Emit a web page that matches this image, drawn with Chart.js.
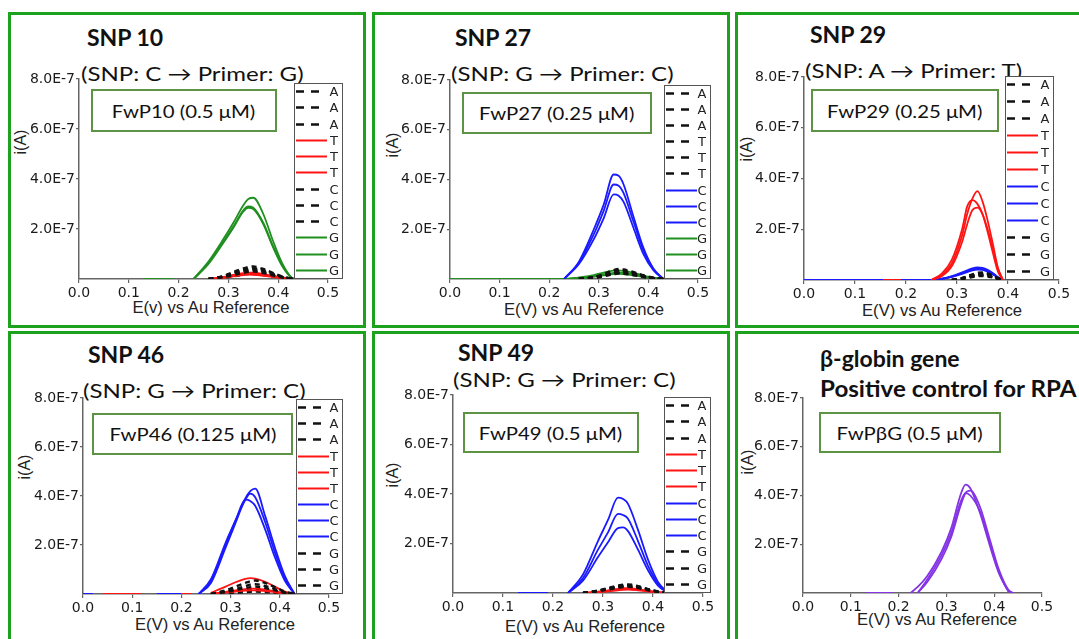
<!DOCTYPE html>
<html>
<head>
<meta charset="utf-8">
<script src="https://cdn.jsdelivr.net/npm/chart.js@4.4.0/dist/chart.umd.min.js"></script>
<style>
  body { margin: 0; background: #fff; }
  #fig { position: relative; width: 1079px; height: 639px; overflow: hidden; background: #fff; }
  .panel { position: absolute; border: 3px solid #1ca21c; box-sizing: border-box; }
  .ttl, .sub, .box, .ylab, .xlab { position: absolute; white-space: nowrap; line-height: 1; color: #111; }
  .ttl { font: bold 23px Lato, "Open Sans", sans-serif; }
  .sub { font: 20px Lato, "Open Sans", sans-serif; transform: scaleX(1.2); transform-origin: 0 50%; }
  .box { font: 18px Lato, "Open Sans", sans-serif; border: 2px solid #5c9444; box-sizing: border-box;
         display: flex; align-items: center; justify-content: center; background: #fff; }
  .box span { display: inline-block; transform: scaleX(1.13); }
  .ylab, .xlab { font: 16px "Liberation Sans", Arial, sans-serif; color: #222; }
  .ylab { transform: translate(-50%, -50%) rotate(-90deg); }
  .xlab { transform: translate(-50%, -50%) scaleX(1.04); }
  canvas { position: absolute; }
</style>
</head>
<body>
<div id="fig">
  <div class="panel" style="left:8px;top:12px;width:358px;height:316px"></div>
  <div class="panel" style="left:372px;top:12px;width:358px;height:316px"></div>
  <div class="panel" style="left:735px;top:12px;width:360px;height:316px"></div>
  <div class="panel" style="left:8px;top:331px;width:358px;height:320px"></div>
  <div class="panel" style="left:372px;top:331px;width:358px;height:320px"></div>
  <div class="panel" style="left:735px;top:331px;width:360px;height:320px"></div>

  <div class="ttl" style="left:87px;top:23px">SNP 10</div>
  <div class="sub" style="left:81px;top:61px">(SNP: C → Primer: G)</div>
  <div class="box" style="left:91px;top:89px;width:186px;height:43px"><span>FwP10 (0.5 μM)</span></div>
  <div class="ylab" style="left:21px;top:142px">i(A)</div>
  <div class="xlab" style="left:211px;top:308px">E(v) vs Au Reference</div>

  <div class="ttl" style="left:455px;top:23px">SNP 27</div>
  <div class="sub" style="left:451px;top:61px">(SNP: G → Primer: C)</div>
  <div class="box" style="left:462px;top:92px;width:190px;height:42px"><span>FwP27 (0.25 μM)</span></div>
  <div class="ylab" style="left:393px;top:145px">i(A)</div>
  <div class="xlab" style="left:584px;top:310px">E(V) vs Au Reference</div>

  <div class="ttl" style="left:810px;top:20px">SNP 29</div>
  <div class="sub" style="left:805px;top:58px">(SNP: A → Primer: T)</div>
  <div class="box" style="left:811px;top:89px;width:188px;height:43px"><span>FwP29 (0.25 μM)</span></div>
  <div class="ylab" style="left:747px;top:149px">i(A)</div>
  <div class="xlab" style="left:942px;top:311px">E(V) vs Au Reference</div>

  <div class="ttl" style="left:88px;top:340px">SNP 46</div>
  <div class="sub" style="left:83px;top:378px">(SNP: G → Primer: C)</div>
  <div class="box" style="left:92px;top:413px;width:201px;height:42px"><span>FwP46 (0.125 μM)</span></div>
  <div class="ylab" style="left:25px;top:467px">i(A)</div>
  <div class="xlab" style="left:215px;top:625px">E(V) vs Au Reference</div>

  <div class="ttl" style="left:458px;top:338px">SNP 49</div>
  <div class="sub" style="left:453px;top:367px">(SNP: G → Primer: C)</div>
  <div class="box" style="left:463px;top:412px;width:176px;height:41px"><span>FwP49 (0.5 μM)</span></div>
  <div class="ylab" style="left:393px;top:475px">i(A)</div>
  <div class="xlab" style="left:585px;top:627px">E(V) vs Au Reference</div>

  <div class="ttl" style="left:820px;top:344px">β-globin gene</div>
  <div class="ttl" style="left:820px;top:374px;transform:scaleX(1.05);transform-origin:0 50%">Positive control for RPA</div>
  <div class="box" style="left:819px;top:412px;width:182px;height:41px"><span>FwPβG (0.5 μM)</span></div>
  <div class="ylab" style="left:748px;top:462px">i(A)</div>
  <div class="xlab" style="left:937px;top:620px">E(V) vs Au Reference</div>
</div>

<script>
// current values are in units of 1E-7 A
const _ = null

const xTickValues = [0, 0.1, 0.2, 0.3, 0.4, 0.5]
const xTickLabels = ["0.0", "0.1", "0.2", "0.3", "0.4", "0.5"]
const yTickValues = [2, 4, 6, 8]
const yTickLabels = ["2.0E-7", "4.0E-7", "6.0E-7", "8.0E-7"]

// potential (V) sample points
const potential   = [0.0, 0.13, 0.19, 0.21, 0.23, 0.26, 0.29, 0.31, 0.33, 0.34, 0.35, 0.37, 0.39, 0.41, 0.43, 0.44]
const potential29 = [0.0, 0.155, 0.19, 0.21, 0.25, 0.27, 0.29, 0.31, 0.32, 0.33, 0.34, 0.35, 0.36, 0.37, 0.38, 0.39]
const potential46 = [0.0, 0.02, 0.04, 0.12, 0.15, 0.20, 0.22, 0.235, 0.26, 0.29, 0.31, 0.33, 0.34, 0.35, 0.37, 0.39, 0.41, 0.43]
const potentialBG = [0.0, 0.13, 0.19, 0.21, 0.225, 0.24, 0.26, 0.29, 0.31, 0.33, 0.34, 0.35, 0.37, 0.39, 0.41, 0.43, 0.44]

// SNP 10
const snp10_A1 = [_,_,_,_,_, 0, 0.12, 0.28, 0.42, 0.48, 0.50, 0.40, 0.24, 0.09, 0, _]
const snp10_A2 = [_,_,_,_,_, 0, 0.10, 0.22, 0.34, 0.39, 0.40, 0.32, 0.19, 0.07, 0, _]
const snp10_A3 = [_,_,_,_,_, 0, 0.07, 0.16, 0.25, 0.29, 0.30, 0.24, 0.14, 0.05, 0, _]
const snp10_T1 = [_,_,_,_,_, 0, 0.08, 0.16, 0.23, 0.25, 0.25, 0.20, 0.12, 0.05, 0, _]
const snp10_T2 = [_,_,_,_,_, 0, 0.06, 0.13, 0.19, 0.21, 0.20, 0.16, 0.10, 0.04, 0, _]
const snp10_T3 = [_,_,_,_,_, 0, 0.05, 0.11, 0.16, 0.18, 0.17, 0.13, 0.08, 0.03, 0, _]
const snp10_C1 = [_,_,_,_,_, 0, 0.10, 0.24, 0.36, 0.41, 0.43, 0.35, 0.21, 0.08, 0, _]
const snp10_C2 = [_,_,_,_,_, 0, 0.08, 0.19, 0.29, 0.33, 0.35, 0.28, 0.17, 0.06, 0, _]
const snp10_C3 = [_,_,_,_,_, 0, 0.05, 0.11, 0.17, 0.20, 0.20, 0.16, 0.10, 0.04, 0, _]
const snp10_G1 = [_, 0, 0, _, 0, 0.70, 1.60, 2.25, 2.95, 3.20, 3.25, 2.60, 1.50, 0.55, 0.02, 0]
const snp10_G2 = [_,_,_,_, 0, 0.65, 1.50, 2.10, 2.75, 2.90, 2.85, 2.25, 1.30, 0.50, 0.02, 0]
const snp10_G3 = [_,_,_,_, 0, 0.60, 1.45, 2.05, 2.70, 2.85, 2.80, 2.20, 1.25, 0.45, 0.02, 0]

// SNP 27
const snp27_A1 = [_,_,_,_,_, 0, 0.08, 0.20, 0.36, 0.40, 0.38, 0.28, 0.15, 0.05, 0, _]
const snp27_A2 = [_,_,_,_,_, 0, 0.07, 0.17, 0.30, 0.34, 0.32, 0.24, 0.13, 0.04, 0, _]
const snp27_A3 = [_,_,_,_,_, 0, 0.06, 0.15, 0.27, 0.30, 0.29, 0.21, 0.11, 0.04, 0, _]
const snp27_T1 = [_,_,_,_,_, 0, 0.06, 0.14, 0.25, 0.28, 0.27, 0.20, 0.10, 0.03, 0, _]
const snp27_T2 = [_,_,_,_,_, 0, 0.05, 0.13, 0.22, 0.25, 0.24, 0.18, 0.09, 0.03, 0, _]
const snp27_T3 = [_,_,_,_,_, 0, 0.04, 0.11, 0.19, 0.22, 0.21, 0.15, 0.08, 0.02, 0, _]
const snp27_C1 = [_,_,_,_, 0, 0.70, 2.00, 3.00, 4.20, 4.15, 3.80, 2.50, 1.25, 0.42, 0, _]
const snp27_C2 = [_,_,_,_, 0, 0.65, 1.80, 2.75, 3.80, 3.75, 3.45, 2.30, 1.15, 0.40, 0, _]
const snp27_C3 = [_,_,_,_, 0, 0.60, 1.60, 2.45, 3.40, 3.35, 3.10, 2.05, 1.00, 0.35, 0, _]
const snp27_G1 = [0, 0, 0, 0, 0, 0.06, 0.16, 0.26, 0.34, 0.35, 0.33, 0.25, 0.14, 0.05, 0, _]
const snp27_G2 = [_,_,_,_, 0, 0.04, 0.12, 0.19, 0.25, 0.26, 0.25, 0.19, 0.10, 0.04, 0, _]
const snp27_G3 = [_,_,_,_, 0, 0.03, 0.09, 0.15, 0.20, 0.21, 0.20, 0.15, 0.08, 0.03, 0, _]

// SNP 29
const snp29_A1 = [_,_,_,_,_,_, 0, 0.08, 0.15, 0.22, 0.28, 0.30, 0.26, 0.18, 0.08, 0]
const snp29_A2 = [_,_,_,_,_,_, 0, 0.06, 0.12, 0.18, 0.23, 0.25, 0.22, 0.15, 0.06, 0]
const snp29_A3 = [_,_,_,_,_,_, 0, 0.05, 0.10, 0.15, 0.19, 0.20, 0.18, 0.12, 0.05, 0]
const snp29_T1 = [_, 0, 0, _, 0, 0.20, 0.65, 1.75, 2.60, 3.20, 3.50, 3.10, 2.35, 1.45, 0.50, 0]
const snp29_T2 = [_,_,_,_, 0, 0.25, 0.80, 2.00, 2.90, 3.15, 3.00, 2.60, 1.90, 1.10, 0.35, 0]
const snp29_T3 = [_,_,_,_, 0, 0.15, 0.55, 1.50, 2.20, 2.75, 2.85, 2.60, 2.00, 1.25, 0.45, 0]
const snp29_C1 = [0, 0, 0, 0, 0, 0.05, 0.15, 0.30, 0.38, 0.46, 0.50, 0.48, 0.40, 0.28, 0.12, 0]
const snp29_C2 = [_,_,_,_, 0, 0.04, 0.13, 0.27, 0.34, 0.41, 0.45, 0.43, 0.36, 0.25, 0.10, 0]
const snp29_C3 = [_,_,_,_, 0, 0.04, 0.12, 0.24, 0.31, 0.38, 0.41, 0.40, 0.33, 0.23, 0.09, 0]
const snp29_G1 = [_,_,_,_,_,_, 0, 0.07, 0.13, 0.20, 0.25, 0.27, 0.24, 0.16, 0.07, 0]
const snp29_G2 = [_,_,_,_,_,_, 0, 0.05, 0.10, 0.15, 0.19, 0.21, 0.18, 0.12, 0.05, 0]
const snp29_G3 = [_,_,_,_,_,_, 0, 0.04, 0.08, 0.12, 0.15, 0.16, 0.14, 0.10, 0.04, 0]

// SNP 46
const snp46_A1 = [_,_,_,_,_,_,_,_, 0, 0.15, 0.30, 0.45, 0.52, 0.55, 0.45, 0.28, 0.10, 0]
const snp46_A2 = [_,_,_,_,_,_,_,_, 0, 0.10, 0.20, 0.32, 0.38, 0.40, 0.33, 0.20, 0.07, 0]
const snp46_A3 = [_,_,_,_,_,_,_,_, 0, 0.08, 0.16, 0.24, 0.28, 0.30, 0.25, 0.15, 0.05, 0]
const snp46_T1 = [_,_, 0, 0, _, 0, 0, _, 0.05, 0.30, 0.48, 0.62, 0.65, 0.63, 0.50, 0.30, 0.10, 0]
const snp46_T2 = [_,_,_,_,_,_,_,_, 0, 0.09, 0.15, 0.20, 0.22, 0.22, 0.18, 0.11, 0.04, 0]
const snp46_T3 = [_,_,_,_,_,_,_,_, 0, 0.06, 0.10, 0.14, 0.15, 0.15, 0.12, 0.07, 0.03, 0]
const snp46_C1 = [0, 0, _, _, 0, 0, _, 0, 0.45, 1.90, 2.90, 3.90, 4.20, 4.30, 3.20, 1.90, 0.75, 0]
const snp46_C2 = [_,_,_,_,_,_,_, 0, 0.50, 2.00, 3.00, 3.85, 4.10, 3.95, 2.95, 1.70, 0.65, 0]
const snp46_C3 = [_,_,_,_,_,_,_, 0, 0.60, 2.10, 3.00, 3.85, 3.80, 3.60, 2.65, 1.50, 0.55, 0]
const snp46_G1 = [_,_,_,_,_,_,_,_, 0, 0.05, 0.10, 0.16, 0.19, 0.20, 0.17, 0.10, 0.04, 0]
const snp46_G2 = [_,_,_,_,_,_,_,_, 0, 0.04, 0.08, 0.12, 0.14, 0.15, 0.12, 0.08, 0.03, 0]
const snp46_G3 = [_,_,_,_,_,_,_,_, 0, 0.02, 0.05, 0.08, 0.09, 0.10, 0.08, 0.05, 0.02, 0]

// SNP 49
const snp49_A1 = [_,_,_,_,_, 0, 0.10, 0.20, 0.30, 0.34, 0.35, 0.28, 0.16, 0.06, 0, _]
const snp49_A2 = [_,_,_,_,_, 0, 0.08, 0.17, 0.26, 0.29, 0.30, 0.24, 0.14, 0.05, 0, _]
const snp49_A3 = [_,_,_,_,_, 0, 0.07, 0.14, 0.21, 0.24, 0.25, 0.20, 0.11, 0.04, 0, _]
const snp49_T1 = [_,_,_,_,_, 0, 0.05, 0.11, 0.17, 0.20, 0.20, 0.16, 0.09, 0.03, 0, _]
const snp49_T2 = [_,_,_,_,_, 0, 0.04, 0.09, 0.14, 0.17, 0.17, 0.13, 0.08, 0.03, 0, _]
const snp49_T3 = [_,_,_,_,_, 0, 0.03, 0.07, 0.11, 0.13, 0.14, 0.11, 0.06, 0.02, 0, _]
const snp49_C1 = [_, 0, 0, _, 0, 0.75, 2.10, 2.95, 3.85, 3.80, 3.60, 2.55, 1.35, 0.45, 0, _]
const snp49_C2 = [_,_,_,_, 0, 0.60, 1.75, 2.45, 3.20, 3.15, 3.00, 2.10, 1.10, 0.38, 0, _]
const snp49_C3 = [_,_,_,_, 0, 0.50, 1.45, 2.05, 2.62, 2.65, 2.50, 1.75, 0.92, 0.30, 0, _]
const snp49_G1 = [_,_,_,_,_, 0, 0.09, 0.18, 0.27, 0.31, 0.32, 0.26, 0.15, 0.05, 0, _]
const snp49_G2 = [_,_,_,_,_, 0, 0.07, 0.15, 0.23, 0.26, 0.27, 0.22, 0.12, 0.04, 0, _]
const snp49_G3 = [_,_,_,_,_, 0, 0.06, 0.12, 0.19, 0.21, 0.22, 0.18, 0.10, 0.03, 0, _]

// beta-globin
const bg_1 = [_, 0, 0, _, 0, 0.25, 0.70, 1.70, 2.65, 4.05, 4.45, 4.30, 3.30, 2.00, 0.80, 0.05, _]
const bg_2 = [_,_,_,_,_, 0, 0.45, 1.40, 2.30, 3.60, 4.10, 4.20, 3.55, 2.25, 0.95, 0.12, 0]
const bg_3 = [_,_,_,_,_, 0, 0.55, 1.55, 2.45, 3.75, 4.10, 4.00, 3.35, 2.10, 0.85, 0.08, 0]

const LINE = {
  dash:   { color: "#111111", width: 2.4, dash: [5, 4] },
  red:    { color: "#ff1414", width: 1.8 },
  blue:   { color: "#1a1aff", width: 1.8 },
  green:  { color: "#1f8f1f", width: 1.8 },
  purple: { color: "#8434e4", width: 1.8 }
}

// plot = chart area in page pixels, legend = legend box in page pixels
const panels = [
  { plot: [79, 79, 328, 279], legend: [294, 83, 343, 279], xs: potential, sets: [
    ["A", snp10_A1, "dash"], ["A", snp10_A2, "dash"], ["A", snp10_A3, "dash"],
    ["T", snp10_T1, "red"], ["T", snp10_T2, "red"], ["T", snp10_T3, "red"],
    ["C", snp10_C1, "dash"], ["C", snp10_C2, "dash"], ["C", snp10_C3, "dash"],
    ["G", snp10_G1, "green"], ["G", snp10_G2, "green"], ["G", snp10_G3, "green"]] },
  { plot: [450, 80, 698, 279], legend: [664, 85, 711, 279], xs: potential, sets: [
    ["A", snp27_A1, "dash"], ["A", snp27_A2, "dash"], ["A", snp27_A3, "dash"],
    ["T", snp27_T1, "dash"], ["T", snp27_T2, "dash"], ["T", snp27_T3, "dash"],
    ["C", snp27_C1, "blue"], ["C", snp27_C2, "blue"], ["C", snp27_C3, "blue"],
    ["G", snp27_G1, "green"], ["G", snp27_G2, "green"], ["G", snp27_G3, "green"]] },
  { plot: [804, 77, 1059, 280], legend: [1005, 76, 1054, 280], xs: potential29, sets: [
    ["A", snp29_A1, "dash"], ["A", snp29_A2, "dash"], ["A", snp29_A3, "dash"],
    ["T", snp29_T1, "red"], ["T", snp29_T2, "red"], ["T", snp29_T3, "red"],
    ["C", snp29_C1, "blue"], ["C", snp29_C2, "blue"], ["C", snp29_C3, "blue"],
    ["G", snp29_G1, "dash"], ["G", snp29_G2, "dash"], ["G", snp29_G3, "dash"]] },
  { plot: [83, 398, 329, 594], legend: [296, 399, 343, 594], xs: potential46, sets: [
    ["A", snp46_A1, "dash"], ["A", snp46_A2, "dash"], ["A", snp46_A3, "dash"],
    ["T", snp46_T1, "red"], ["T", snp46_T2, "red"], ["T", snp46_T3, "red"],
    ["C", snp46_C1, "blue"], ["C", snp46_C2, "blue"], ["C", snp46_C3, "blue"],
    ["G", snp46_G1, "dash"], ["G", snp46_G2, "dash"], ["G", snp46_G3, "dash"]] },
  { plot: [453, 395, 703, 593], legend: [664, 397, 711, 593], xs: potential, sets: [
    ["A", snp49_A1, "dash"], ["A", snp49_A2, "dash"], ["A", snp49_A3, "dash"],
    ["T", snp49_T1, "red"], ["T", snp49_T2, "red"], ["T", snp49_T3, "red"],
    ["C", snp49_C1, "blue"], ["C", snp49_C2, "blue"], ["C", snp49_C3, "blue"],
    ["G", snp49_G1, "dash"], ["G", snp49_G2, "dash"], ["G", snp49_G3, "dash"]] },
  { plot: [803, 398, 1042, 593], legend: null, xs: potentialBG, sets: [
    ["βG", bg_1, "purple"], ["βG", bg_2, "purple"], ["βG", bg_3, "purple"]] }
]

const AXIS_W = 75, AXIS_H = 30, PAD_T = 12, PAD_R = 22
const tickFont = { family: '"DejaVu Sans", Verdana, sans-serif', size: 14 }

// boxed legend drawn over the right end of the plot
const boxLegend = {
  id: "boxLegend",
  afterDraw(chart, args, opts) {
    if (!opts.box) return
    const ctx = chart.ctx
    const [l, t, r, b] = opts.box
    const sets = chart.data.datasets
    const step = (b - t - 17) / (sets.length - 1)
    ctx.save()
    ctx.fillStyle = "#fff"
    ctx.fillRect(l, t, r - l, b - t)
    ctx.strokeStyle = "#555"
    ctx.lineWidth = 1
    ctx.strokeRect(l + 0.5, t + 0.5, r - l - 1, b - t - 1)
    sets.forEach((ds, i) => {
      const y = Math.round(t + 8 + i * step) + 0.5
      const dashed = ds.borderDash.length > 0
      ctx.strokeStyle = ds.borderColor
      ctx.lineWidth = dashed ? 2.5 : 2
      ctx.setLineDash(dashed ? [8, 7] : [])
      ctx.beginPath()
      ctx.moveTo(l + 2, y)
      ctx.lineTo(dashed ? l + 25 : l + 33, y)
      ctx.stroke()
      ctx.setLineDash([])
      ctx.fillStyle = "#222"
      ctx.font = '13px "DejaVu Sans", Verdana, sans-serif'
      ctx.textAlign = "center"
      ctx.textBaseline = "middle"
      ctx.fillText(ds.label, r - 9, y + 1)
    })
    ctx.restore()
  }
}

function drawPanel(p) {
  const [l, t, r, b] = p.plot
  const cx = l - AXIS_W, cy = t - PAD_T
  const canvas = document.createElement("canvas")
  canvas.width = r - l + AXIS_W + PAD_R
  canvas.height = b - t + PAD_T + AXIS_H
  canvas.style.left = cx + "px"
  canvas.style.top = cy + "px"
  document.getElementById("fig").appendChild(canvas)

  const datasets = p.sets.map(([label, ys, style]) => {
    const s = LINE[style]
    return {
      label: label,
      data: p.xs.map((x, i) => ({ x: x, y: ys[i] })),
      borderColor: s.color,
      borderWidth: s.width,
      borderDash: s.dash || [],
      pointRadius: 0,
      fill: false,
      spanGaps: false,
      cubicInterpolationMode: "monotone"
    }
  })

  const box = p.legend ? [p.legend[0] - cx, p.legend[1] - cy, p.legend[2] - cx, p.legend[3] - cy] : null

  return new Chart(canvas, {
    type: "line",
    data: { datasets: datasets },
    plugins: [boxLegend],
    options: {
      responsive: false,
      animation: false,
      devicePixelRatio: 1,
      layout: { padding: { top: PAD_T, right: PAD_R, left: 0, bottom: 0 } },
      plugins: { legend: { display: false }, tooltip: { enabled: false }, boxLegend: { box: box } },
      scales: {
        x: {
          type: "linear", min: 0, max: 0.5,
          afterBuildTicks: s => { s.ticks = xTickValues.map(v => ({ value: v })) },
          afterFit: s => { s.height = AXIS_H },
          ticks: { callback: (v, i) => xTickLabels[i], font: tickFont, color: "#1a1a1a", padding: 2, maxRotation: 0, autoSkip: false },
          grid: { drawOnChartArea: false, tickLength: 4, color: "#666", lineWidth: 1.2 },
          border: { color: "#666", width: 1.5 }
        },
        y: {
          type: "linear", min: 0, max: 8,
          afterBuildTicks: s => { s.ticks = yTickValues.map(v => ({ value: v })) },
          afterFit: s => { s.width = AXIS_W },
          ticks: { callback: (v, i) => yTickLabels[i], font: tickFont, color: "#1a1a1a", padding: 1, autoSkip: false },
          grid: { drawOnChartArea: false, tickLength: 3, color: "#666", lineWidth: 1.2 },
          border: { color: "#666", width: 1.5 }
        }
      }
    }
  })
}

panels.forEach(drawPanel)
</script>
</body>
</html>
